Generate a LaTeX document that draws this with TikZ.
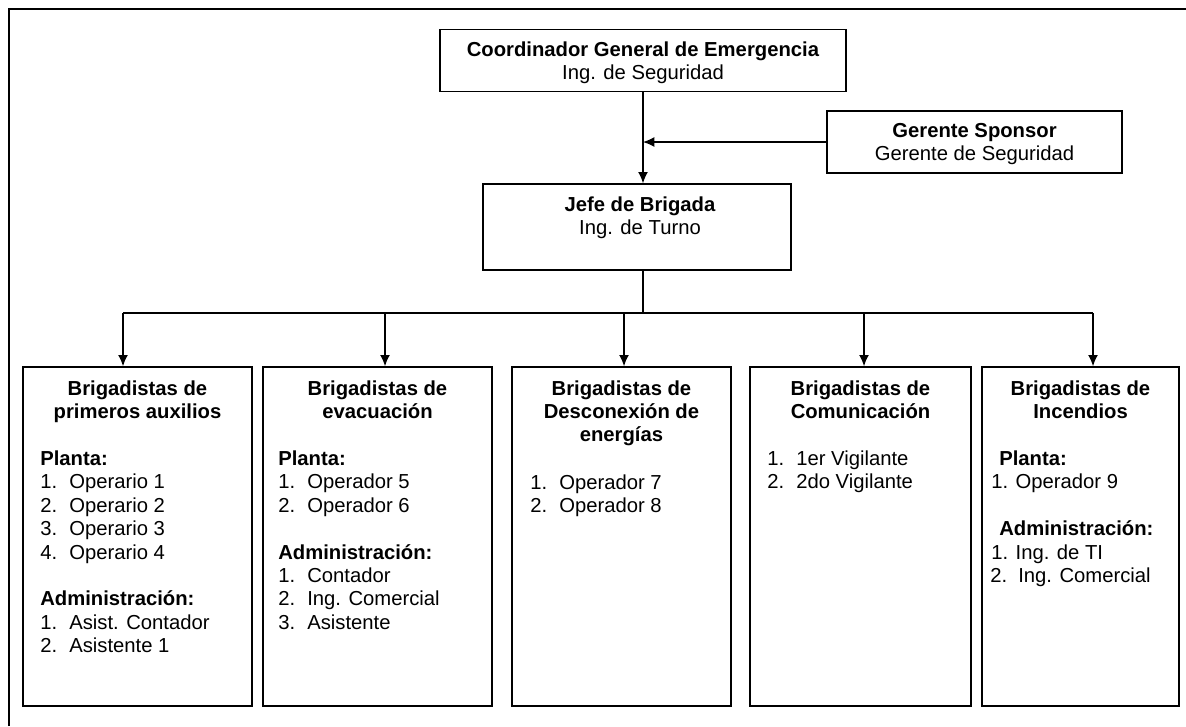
\documentclass[tikz,border=0pt]{standalone}
\usepackage{fontspec}
\setmainfont{Liberation Sans}
\usepackage{tikz}
\usetikzlibrary{arrows.meta,positioning,calc}
\newcommand{\itm}[2]{\makebox[0.725cm][l]{#1}#2}
\newcommand{\lineas}[1]{\begin{tabular}[t]{@{}c@{}}#1\end{tabular}}
\newcommand{\lista}[1]{\begin{tabular}[t]{@{}l@{}}#1\end{tabular}}

\begin{document}
\begin{tikzpicture}[x=0.025cm, y=-0.025cm,
    font=\fontsize{14.4}{16.65}\selectfont,
    caja/.style={draw, line width=1pt, inner sep=0pt},
    texto/.style={inner sep=0pt, anchor=base},
    listado/.style={inner sep=0pt, anchor=base west},
    flecha/.style={-{Latex[length=8pt,width=7pt]}, line width=0.9pt},
    linea/.style={line width=0.9pt}]
    \useasboundingbox (0,0) rectangle (1186,726);

    % Outer frame
    \draw[line width=1.4pt] (9,726) -- (9,9) -- (1186,9);

    % Top boxes
    \node[caja, minimum width=10.15cm, minimum height=1.55cm] (top) at (643,60.6) {};
    \node[texto] (top-txt) at (643,56) {\lineas{\textbf{Coordinador General de Emergencia}\\Ing. de Seguridad}};

    \node[caja, minimum width=7.375cm, minimum height=1.55cm] (spons) at (974.5,142) {};
    \node[texto] (spons-txt) at (974.5,137) {\lineas{\textbf{Gerente Sponsor}\\Gerente de Seguridad}};

    \node[caja, minimum width=7.7cm, minimum height=2.15cm] (jefe) at (637,227) {};
    \node[texto] (jefe-txt) at (640,211) {\lineas{\textbf{Jefe de Brigada}\\Ing. de Turno}};

    % Arrows to Jefe de Brigada
    \draw[flecha] (top.south) -- (top.south |- jefe.north);
    \draw[flecha] (spons.west) -- (spons.west -| top.south);

    % Brigade boxes
    \node[caja, minimum width=5.725cm, minimum height=8.475cm] (b1) at (137.5,536.5) {};
    \node[caja, minimum width=5.725cm, minimum height=8.475cm] (b2) at (377.5,536.5) {};
    \node[caja, minimum width=5.475cm, minimum height=8.475cm] (b3) at (621.5,536.5) {};
    \node[caja, minimum width=5.525cm, minimum height=8.475cm] (b4) at (860.5,536.5) {};
    \node[caja, minimum width=4.925cm, minimum height=8.475cm] (b5) at (1080.5,536.5) {};

    % Distribution
    \coordinate (bus) at (643,313);
    \draw[linea] (top.south |- jefe.south) -- (bus);
    \foreach \n/\x in {1/123,2/385,3/624,4/864,5/1093} {
        \coordinate (d\n) at (\x,313);
        \draw[flecha] (d\n) -- (d\n |- b\n.north);
    }
    \draw[linea] (d1) -- (d5);

    % Titles
    \node[texto] (b1-tit) at (137.5,395) {\lineas{\textbf{Brigadistas de}\\\textbf{primeros auxilios}}};
    \node[texto] (b2-tit) at (377.5,395) {\lineas{\textbf{Brigadistas de}\\\textbf{evacuación}}};
    \node[texto] (b3-tit) at (621.5,395) {\lineas{\textbf{Brigadistas de}\\\textbf{Desconexión de}\\\textbf{energías}}};
    \node[texto] (b4-tit) at (860.5,395) {\lineas{\textbf{Brigadistas de}\\\textbf{Comunicación}}};
    \node[texto] (b5-tit) at (1080.5,395) {\lineas{\textbf{Brigadistas de}\\\textbf{Incendios}}};

    % Members
    \node[listado] (b1-lst) at (40,465.5) {\lista{\textbf{Planta:}\\
        \itm{1.}{Operario 1}\\ \itm{2.}{Operario 2}\\ \itm{3.}{Operario 3}\\ \itm{4.}{Operario 4}\\ \\
        \textbf{Administración:}\\ \itm{1.}{Asist. Contador}\\ \itm{2.}{Asistente 1}}};
    \node[listado] (b2-lst) at (278,465.5) {\lista{\textbf{Planta:}\\
        \itm{1.}{Operador 5}\\ \itm{2.}{Operador 6}\\ \\
        \textbf{Administración:}\\ \itm{1.}{Contador}\\ \itm{2.}{Ing. Comercial}\\ \itm{3.}{Asistente}}};
    \node[listado] (b3-lst) at (530,489) {\lista{\itm{1.}{Operador 7}\\ \itm{2.}{Operador 8}}};
    \node[listado] (b4-lst) at (767,465.5) {\lista{\itm{1.}{1er Vigilante}\\ \itm{2.}{2do Vigilante}}};
    \node[listado] (b5-lst) at (990,465.5) {\lista{\hspace{0.225cm}\textbf{Planta:}\\
        \hspace{0.025cm}1. Operador 9\\ \\
        \hspace{0.225cm}\textbf{Administración:}\\
        \hspace{0.025cm}1. Ing. de TI\\ \makebox[0.7cm][l]{2.}Ing. Comercial}};
\end{tikzpicture}
\end{document}
